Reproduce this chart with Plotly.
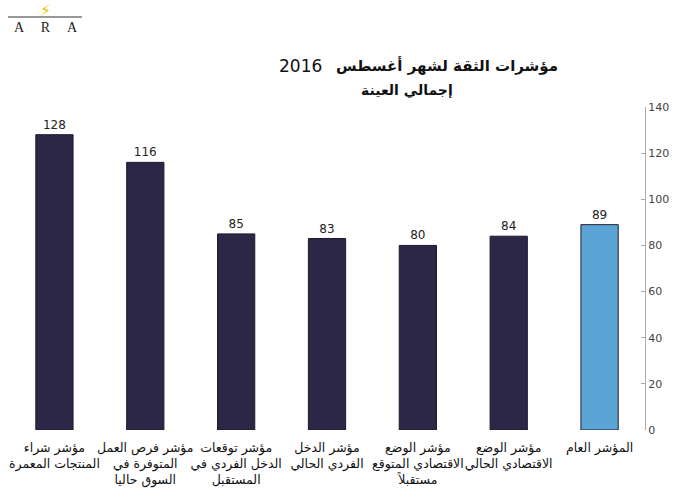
import plotly.graph_objects as go

categories = [
    "مؤشر شراء<br>المنتجات المعمرة",
    "مؤشر فرص العمل<br>المتوفرة في<br>السوق حاليا",
    "مؤشر توقعات<br>الدخل الفردي في<br>المستقبل",
    "مؤشر الدخل<br>الفردي الحالي",
    "مؤشر الوضع<br>الاقتصادي المتوقع<br>مستقبلاً",
    "مؤشر الوضع<br>الاقتصادي الحالي",
    "المؤشر العام",
]
values = [128, 116, 85, 83, 80, 84, 89]
bar_colors = ["#2d2747"] * 6 + ["#5aa5d6"]
tick_vals = [0, 20, 40, 60, 80, 100, 120, 140]

fig = go.Figure()
fig.add_trace(go.Bar(
    x=categories, y=values,
    marker=dict(color=bar_colors, line=dict(color="#1d1a2c", width=1)),
    width=0.41,
    text=[str(v) for v in values], textposition="outside",
    textfont=dict(family="DejaVu Sans", size=12, color="#222"),
    cliponaxis=False,
))

fig.update_layout(
    width=687, height=500,
    margin=dict(l=9, r=42, t=107, b=70),
    paper_bgcolor="white", plot_bgcolor="white",
    showlegend=False,
    xaxis=dict(showline=False, showgrid=False, ticks="", automargin=False, tickangle=0,
               ticklabelstandoff=8,
               tickfont=dict(family="DejaVu Sans", size=12.5, color="#111")),
    yaxis=dict(side="right", range=[0, 140], tickvals=tick_vals,
               showline=True, linecolor="#aaaaaa", linewidth=1,
               ticks="inside", ticklen=4, tickcolor="#aaaaaa",
               showgrid=False, zeroline=False, automargin=False,
               tickfont=dict(family="DejaVu Sans", size=11, color="#444")),
    annotations=[
        dict(text="<b>مؤشرات الثقة لشهر أغسطس</b>", x=560, y=65, xref="paper", yref="paper",
             showarrow=False, font=dict(family="DejaVu Sans", size=15, color="#111"),
             xanchor="right", yanchor="middle"),
        dict(text="2016", x=300, y=66, xref="paper", yref="paper",
             showarrow=False, font=dict(family="DejaVu Sans", size=17, color="#111"),
             xanchor="center", yanchor="middle"),
        dict(text="<b>إجمالي العينة</b>", x=455, y=90, xref="paper", yref="paper",
             showarrow=False, font=dict(family="DejaVu Sans", size=14, color="#111"),
             xanchor="right", yanchor="middle"),
        dict(text="A     R     A", x=46, y=27, xref="paper", yref="paper",
             showarrow=False, font=dict(family="Liberation Serif", size=14, color="#222"),
             xanchor="center", yanchor="middle"),
        dict(text="⚡", x=45, y=11, xref="paper", yref="paper",
             showarrow=False, font=dict(family="DejaVu Sans", size=16, color="#f2c200"),
             xanchor="center", yanchor="middle"),
    ],
)

# convert pixel-based annotation coords to paper coords
pw = 687 - 9 - 42
ph = 500 - 107 - 70
for a in fig.layout.annotations:
    a.x = (a.x - 9) / pw
    a.y = (500 - 70 - a.y) / ph

fig.add_shape(type="line", xref="paper", yref="paper",
              x0=(8 - 9) / pw, x1=(82 - 9) / pw,
              y0=(500 - 70 - 17) / ph, y1=(500 - 70 - 17) / ph,
              line=dict(color="#333", width=1.2))

fig.write_html("out.html")
